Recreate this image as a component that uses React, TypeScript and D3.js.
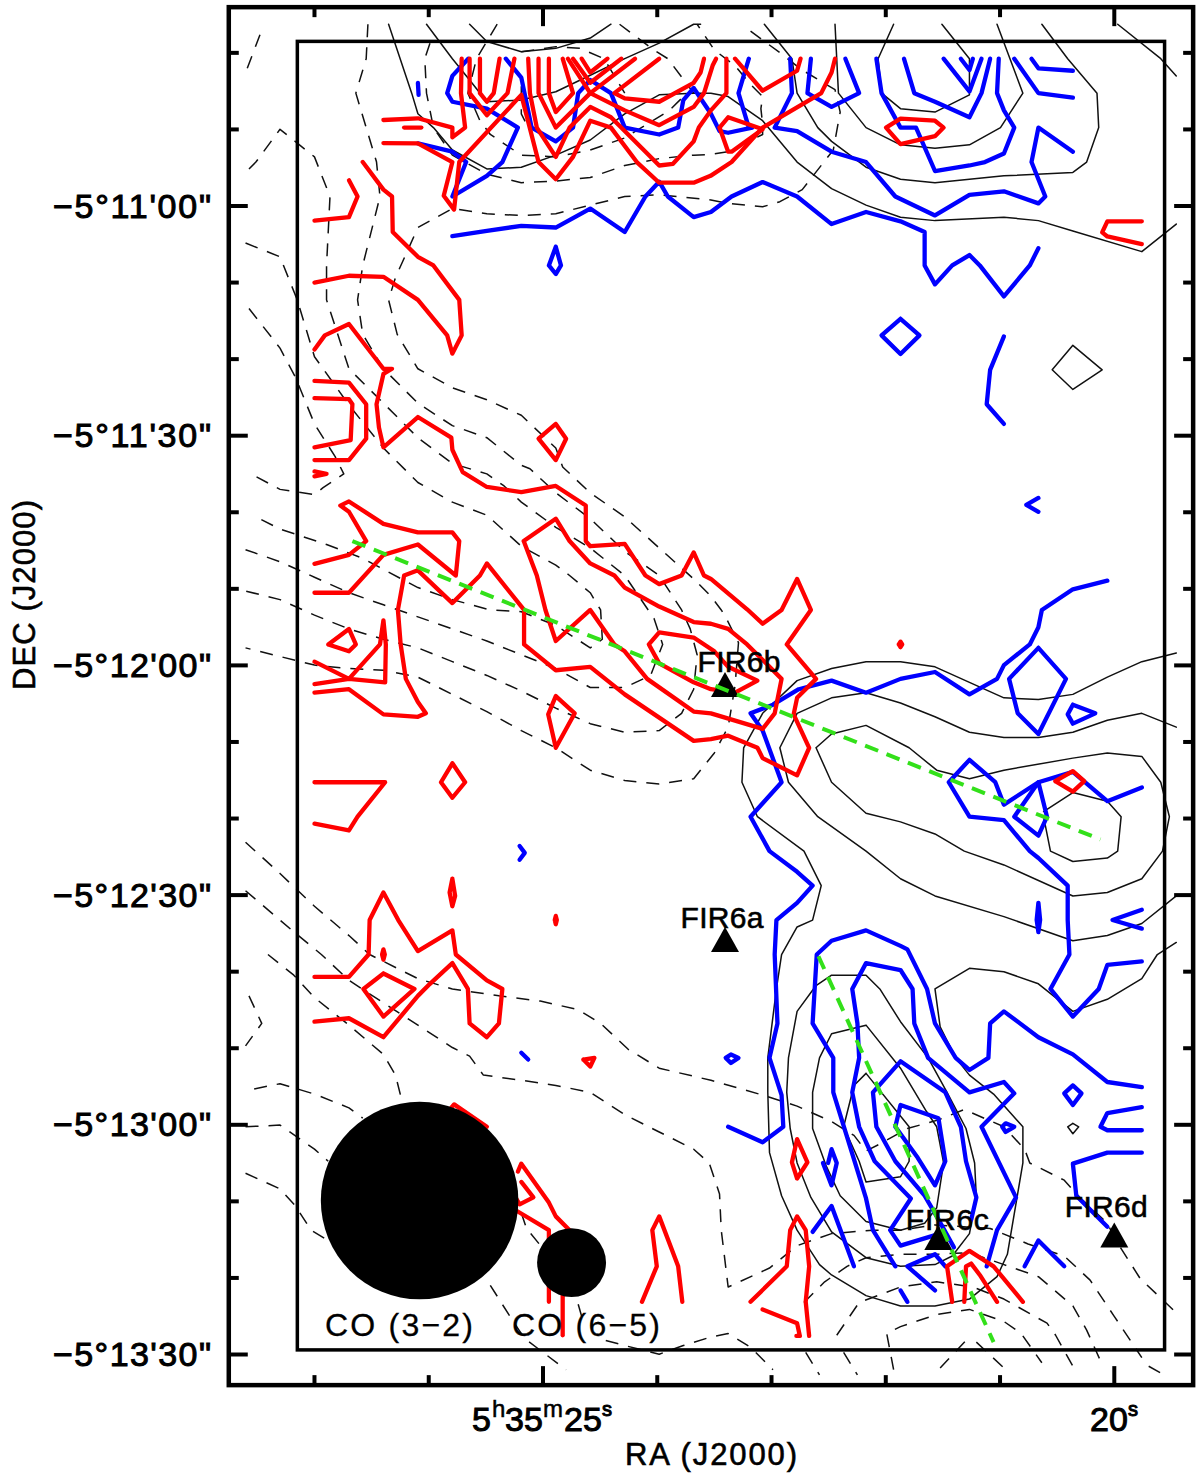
import React from "react";
import * as d3 from "d3";

// Map grid: contour vertices are given in map cells (column, row).
const gridOriginRA = 27.0; // seconds of RA at column 0
const gridStepRA = 0.3017;
const gridOriginDec = -19.24; // arcsec south of -5d11m00s at row 0
const gridStepDec = 4.5;

const redContours: number[][] = [
  [4.27,0, 4.25,1, 4.37,2, 4,2.28, 4,2, 3,1.73, 2,1.78],
  [2,2.45, 3,2.46, 4,3, 3.75,3.98, 4.05,4.38, 4.2,3, 6,1.05, 6.5,3, 7,3.5, 7.5,2.85, 8,1.8, 8.6,2, 9.35,3, 10,3.6, 11,3.6, 11.49,3.4, 12.1,3, 13,2, 14.7,1, 15,.4, 15.1,0],
  [4.5,0, 4.5,1, 5,1.64, 5.6,1, 5.8,0],
  [4.8,0, 4.8,1, 5,1.25, 5.2,1, 5.37,0],
  [6.2,0, 6.25,1, 6.45,2, 7,2.85, 7.4,2, 8,1.4, 8.6,1.7, 9.5,2.6, 10,3.1, 10.4,3.05, 11,2.4, 11.15,2, 11.5,1.5, 11.95,1, 11.95,0],
  [6.5,0, 6.5,1, 7,2, 8,1, 9.3,0],
  [10,0, 8.7,1, 9,1.15, 10,1.25, 11,.7, 11.2,.4, 11.3,0],
  [6.8,0, 6.8,1, 7,1.55, 7.5,1, 7.2,0],
  [7.35,0, 8,1, 9,1.5, 10,1.93, 11,1.4, 11.3,1, 11.55,.2, 11.65,0],
  [7.5,0, 8,.7, 8.9,0],
  [7.75,0, 8,.4, 8.5,0],
  [11.75,2, 12,1.7, 13,2.05, 12.1,2.7, 12,2.7, 11.75,2],
  [12.2,0, 13,.93, 14,.35, 14.1,0],
  [2.6,2, 3.1,2],
  [16.58,2, 17,1.74, 18,1.8, 18.25,2, 18,2.25, 17,2.48, 16.58,2],
  [24,4.72, 23,4.72, 22.85,5.04, 23,5.16, 24,5.38],
  [0,4.7, 1,4.6, 1.25,4, 1,3.53],
  [1.4,3, 2,3.8, 2.25,4, 2.27,5.03, 3,5.75, 3.45,6, 4.2,7, 4.27,8.03, 4,8.56, 3.85,8.03, 3,7, 2,6.33, 1,6.3, 0,6.5],
  [0,8.44, .3,8.03, 1,7.7, 2,9, 2.25,9, 2,9.15, 1.8,10.03, 1.87,10.7, 2,11.28, 3,10.4, 3.97,11, 4,11.35, 4.3,12, 5,12.43, 6,12.58, 7,12.4, 7.87,12.97, 7.87,14, 8,14.15, 9,14.08, 9.6,15, 10,15.25, 10.65,15, 11,14.33, 11.3,15, 11.5,15.1, 12.55,15.98, 13,16.4, 13.55,16, 14,15.1, 14.4,16, 13.7,17, 14.55,18, 14,18.55, 13.9,19.03, 14.35,20, 14,20.8, 13,20.3, 12.85,20, 12,19.65, 11.5,19.75, 11,19.8, 9,18.45, 8,17.65, 7,17.75, 6.08,17, 6.08,16, 5,14.65, 4.8,15, 4,15.8, 3,14.85, 2.6,15, 2.42,16, 2.5,17, 2.65,18, 3,18.67, 3.23,19, 3,19.1, 2,19.03, 1,18.3, 0,18.4],
  [0,9.35, 1,9.4, 1.5,10.03, 1.5,11.03, 1,11.65, 0,11.65],
  [0,9.85, 1,9.88, 1.1,10.03, 1.05,11.07, 0,11.28],
  [0,11.98, .35,12.05, 0,12.12],
  [7,10.6, 7.3,11.03, 7,11.65, 6.5,11.03, 7,10.6],
  [0,14.66, 1,14.4, 1.5,14, 1,13.15, .75,12.97, 1,12.85, 2,13.5, 3,13.75, 4,13.75, 4.2,14, 4.1,15, 3,14.1, 2,14.4, 1,15.5, 0,15.5],
  [6.07,14, 7,13.35, 7.4,14, 8,14.65, 8.7,15, 9,15.35, 10,15.9, 11,16.35, 11.5,16.4, 12,16.55, 12.55,17, 13.55,18, 13.35,19, 13,19.45, 11.5,19, 11,18.95, 9.65,18, 9,17.2, 8.7,17, 8,16, 7,16.9, 6.7,16, 6.45,15, 6.07,14],
  [9.7,17, 10,16.65, 11,16.8, 11.6,17.2, 12,17.65, 12.85,18.05, 12.2,18.4, 11.5,18.3, 11,18.1, 10,17.55, 9.7,17],
  [.4,17, 1,16.55, 1.2,17, 1,17.2, .4,17],
  [0,17.5, 1,18, 2.05,18.1, 2.07,17, 2,16.3, 1.9,17, 1,18, 0,18.15],
  [7,18.5, 7.55,19, 7,20, 6.78,19.03, 7,18.5],
  [4,20.45, 4.37,21, 4,21.45, 3.67,21, 4,20.45],
  [0,21, 1,21, 2.05,21, 1.25,22, 1,22.4, 0,22.2],
  [4,23.8, 4.08,24.3, 4,24.6, 3.92,24.2, 4,23.8],
  [6.97,25, 7,24.88, 7.03,25, 7,25.12, 6.97,25],
  [16.95,17, 17,16.92, 17.05,17, 17,17.08, 16.95,17],
  [0,26.65, 1,26.65, 1.57,26, 1.6,25, 2,24.2, 2.43,25, 3,25.9, 4,25.3, 4.1,26, 5,26.75, 5.45,27, 5.35,28, 5,28.4, 4.5,28, 4.45,27, 4,26.25, 3.35,26.85, 3,27.2, 2,28.4, 1,27.85, 0,27.95],
  [1.96,26, 2,25.85, 2.04,26, 2,26.15, 1.96,26],
  [2,26.55, 2.9,27, 2,27.8, 1.42,27, 2,26.55],
  [7.8,29.05, 8.12,29, 8,29.25, 7.8,29.05],
  [5.9,32.3, 6,32.07, 6.8,33.2, 7,33.6, 7.4,34, 7.6,35],
  [5.8,33.4, 6.8,34, 6.8,36.08],
  [6,32.6, 6.35,33.05, 5.95,33.25, 5.8,33],
  [7.2,35.5, 7.2,37.05],
  [3.5,31, 4.05,30.35, 5,31],
  [9.5,36.08, 9.93,35.05, 9.8,34, 10,33.6, 10.55,35.05, 10.67,36.08],
  [12.65,36.08, 13.7,35.05, 13.8,34, 14,33.6, 14.25,34, 14.35,35.05, 14.25,36.08, 14.35,37.07],
  [13,36.3, 14,36.7, 14.08,37.07, 13.98,37.07],
  [18.5,36.08, 18.35,35.05, 19,34.6, 19.7,35.05, 20.55,36.08],
  [18.85,36.08, 18.9,35.05, 19.05,34.97, 19.3,35.3, 19.8,36.08],
  [14,31.36, 14.3,32.03, 14,32.5, 13.85,32.03, 14,31.36],
  [21.49,20.97, 22,20.68, 22.33,20.97, 22,21.27, 21.49,20.97],
];

const blueContours: number[][] = [
  [3,.7, 3.02,1.05],
  [4.46,0, 4,.5, 3.85,1, 4,1.25, 5,1.45, 5.9,2, 5.45,3, 5,3.4, 4,4, 4.4,3, 4,2.7, 3,2.46],
  [5.55,0, 6,.55, 6.3,2, 7,2.4, 7.5,2, 7.65,1, 8,.62, 8.6,1, 9,2, 10,2.2, 10.55,2, 10.7,1.2, 11,.85, 11.5,1.6, 11.75,2.1, 12,2.15, 12.7,2, 12.6,2, 12.3,1, 12.6,0],
  [4,5.15, 5,5, 6,4.85, 7,4.9, 8,4.35, 9,5.03, 9.6,4, 10,3.57, 10.25,4, 11,4.6, 11.5,4.45, 12.1,4, 13,3.58, 14,4, 15,4.8, 16,4.45, 17,4.72, 17.7,5.03, 17.7,6, 18,6.55, 18.5,6, 19,5.7, 19.3,6, 20,6.9, 20.75,6, 21,5.5],
  [13.8,0, 13.85,1, 13.35,2, 14,2.1, 15,2.7, 16,3, 16.85,4, 18,4.55, 19,3.95, 20,3.85, 21,4.2, 21.2,4, 20.8,3, 21,2, 22,2.7],
  [14.4,0, 14.3,1, 15,1.4, 15.8,1, 15.4,0],
  [16.3,0, 16.45,1, 17,2, 17.45,2, 18,3.26, 19,3.1, 19.45,3, 20,2.75, 20.3,2, 20,1.5, 19.8,1, 19.85,0],
  [17.1,0, 17.4,1, 18,1.25, 19,1.7, 19.35,1, 19.6,0],
  [18.25,0, 19,.95, 19.35,0],
  [18.75,0, 19,.33, 19.1,0],
  [20.3,0, 21,1, 22,1.13],
  [20.8,0, 21,.28, 22,.35],
  [17,7.55, 17.55,8.03, 17,8.57, 16.45,8.03, 17,7.55],
  [20,8.06, 19.6,9.03, 19.5,10.03, 20,10.6],
  [7,5.46, 7.15,6, 7,6.25, 6.8,6, 7,5.46],
  [5.95,22.85, 6.1,23.05, 5.95,23.25],
  [6,28.85, 6.2,29.05],
  [11.93,29, 12.08,28.9, 12.3,29, 12.08,29.15, 11.93,29],
  [23,15.15, 22,15.4, 21.1,16, 21,16.5, 20.75,17, 20,17.6, 19.8,18, 19,18.45, 18,17.8, 17,18, 16,18.4, 15,18.05, 14.05,18.3, 13.3,18.75, 12.65,19, 13,19.5, 13.55,21, 12.65,22, 13.2,23, 14,23.6, 14.45,24, 14,24.5, 13.4,25, 13.35,26, 13.43,28, 13.2,29, 13.55,30.08, 13.6,31, 13,31.45, 12,31],
  [21,17.1, 21.8,18, 21,19.6, 20.4,19, 20.15,18, 21,17.1],
  [22,18.75, 22.65,19, 22,19.3, 21.85,19.03, 22,18.75],
  [21,12.75, 20.65,12.95, 21,13.15],
  [24,21.15, 23,21.55, 22,20.7, 21,21, 20,21.65, 19.75,21, 19,20.35, 18.4,21, 19,22, 20,22.1, 20.75,23, 21,23.2, 21.85,24, 21.85,25, 21.9,26, 21.35,27, 22,27.8, 22.75,27, 23,26.3, 24,26.2],
  [21,21, 21.25,22, 21,22.55, 20.3,22, 21,21],
  [21,24.5, 21.05,25, 21,25.35, 20.95,25, 21,24.5],
  [24,24.7, 23.15,25, 24,25.25],
  [16.85,35.05, 16.2,34, 16,33.08, 15.05,30, 15.05,29, 14.45,28, 14.57,26, 15,25.6, 16,25.3, 17,25.75, 17.2,25.85, 17.77,27, 18,28, 18.6,29, 19,29.35, 19.55,29, 19.6,28, 20,27.65, 21,28.4, 22,28.9, 23,29.7, 24,29.85],
  [18.15,34.1, 17,34.45, 16.7,34, 17.3,33.08, 16.25,32, 15.8,31, 15.6,30, 15.8,29, 15.75,28, 15.6,27, 16,26.25, 17,26.45, 17.35,27, 17.4,28, 17.8,29, 19,30, 20,29.7, 20.3,30.03, 19.35,31, 20.35,33.05, 19.8,34, 19.5,35.05],
  [18.55,34.5, 18.05,33.6, 17.7,33, 16.85,32, 16.3,31, 16.2,30, 17,29.1, 18.3,30, 18.75,31, 18.9,32, 19.2,33.05, 19.05,33.7],
  [17,30.37, 18.1,30.75, 18.3,32, 18,32.7, 17.5,31.9, 16.85,31, 17,30.37],
  [14.9,32.05, 15,31.65, 15.15,32.05, 15,32.7, 14.75,32.05],
  [14.45,34.05, 15,33.3, 15.65,35.05],
  [18.3,35.05, 18,34.7, 17.2,35.05, 18,35.75],
  [17,35.75, 17.2,36.08],
  [24,31.75, 23,31.75, 22,32.07, 22.1,33, 23,33.9],
  [24,30.43, 23,30.6, 22.8,31, 23,31.1, 24,31.1],
  [22,29.8, 22.25,30.03, 22,30.37, 21.75,30.03, 22,29.8],
  [19.95,31, 20.05,30.9, 20.3,31, 20.05,31.15, 19.95,31],
  [20.6,35.05, 21,34.3, 21.75,35.05],
];

const solidContours: number[][] = [
  [2.15,-1, 2.82,1, 3,1.6, 3.45,2, 4,2.65, 5,3.2, 6,3.15, 7,2.8, 8,2.36, 9,1.6, 10,1.05, 11,1, 11.5,1, 12,1.1, 13,1.8, 14,3, 15,3.77, 16,4.25, 17,4.6, 18,4.7, 20,4.6, 21,4.7, 22,5, 24,5.6, 25,4.8],
  [3.25,-1, 4,0, 4.5,.62, 5,1.25, 6,1.2, 7,.96, 8,.48, 9,0, 10,-.45, 11,-1, 11.2,-1],
  [4.5,-1, 5,-.5, 6,-.2, 7,-.3, 8,-.6, 8.6,-1],
  [13.05,-1, 13.85,0, 14,1, 14.6,2, 15,2.4, 16,3.15, 17,3.5, 18,3.6, 19,3.5, 20,3.4, 22,3.3, 22.4,3, 22.75,2, 22.7,1, 21.85,0, 21.1,-1],
  [15.1,-1, 15.2,1, 16,2, 17,2.5, 18,2.6, 19,2.5, 19.9,2, 20.55,1, 19.8,-1],
  [16.8,-1, 16.35,0, 16.45,1, 17,1.45, 18,1.55, 19,1.05, 19,.35, 19,0, 18.2,-1],
  [23.3,-1, 24.55,0, 25,.5],
  [22,8.32, 22.85,9.03, 22,9.6, 21.4,9.03, 22,8.32],
  [25,17.25, 24,17.5, 23,17.95, 22,18.45, 21,18.6, 20,18.55, 19,18.1, 18,17.65, 17,17.5, 16,17.5, 15,17.7, 14,18.05, 13,19, 12.45,20, 12.4,21, 12.85,22, 14.2,23, 14.7,24, 14.45,25, 14,25.2, 13.55,26, 13.4,27, 13.15,29, 13.15,30, 13.2,31.75, 13.55,33, 14,34, 14.65,35, 15,35.3, 16,35.9, 17,36.2, 18,36.2, 19,36, 19.8,35.35, 20.1,34.7, 20.55,32.05, 20.55,31, 19.7,30.05, 19,29.5, 18.6,29, 18.15,28.1, 18,27, 19,26.4, 20,26.5, 21,26.85, 22,27.65, 23,27.3, 24,26.7, 24.45,26, 25,25.65],
  [25,19.4, 24,19, 23,19.2, 22,19.55, 21,19.7, 20,19.7, 19,19.55, 18,19.1, 17,18.7, 16,18.4, 15,18.55, 14,19, 13.5,20, 13.75,21, 14.6,22, 16,23, 17,23.8, 18,24.3, 20,24.9, 22,25.6, 23,25.45, 24,25.1, 25,24.3],
  [14.55,20, 15,19.6, 16,19.35, 17.25,20, 18.05,20.65, 19,20.9, 20,20.65, 22,20.3, 23,20.15, 24,20.25, 24.55,21, 24.8,22, 24.6,23, 24,23.8, 23,24.2, 22,24.3, 20,23.4, 18.85,23, 18,22.5, 17,22.15, 16,21.9, 15,21, 14.55,20],
  [21.15,21.85, 22,21.3, 23,21.55, 23.4,22, 23.3,23, 23,23.2, 22,23.3, 21.35,23, 21.15,22],
  [16,26.6, 15,26.6, 14.55,26.9, 14,27.65, 13.75,29, 13.7,30, 13.8,31.05, 14,32.05, 14.4,33.05, 15,34.05, 16,34.8, 17,35.05, 18,35, 18.5,34.75, 19,34.1, 19.2,33.05, 19.15,32.05, 18.9,31.05, 18.35,30, 17.8,29, 17,27.95, 16.4,27, 16,26.6],
  [16,28.05, 15,28.3, 14.65,29, 14.45,30, 14.45,31.05, 14.85,32.15, 15.25,33, 16,33.75, 17,34, 17.7,33.8, 18.05,33.35, 18.25,32.05, 18.05,31, 17.75,30.55, 17,29.3, 16,28.05],
  [16,29.45, 15.65,29.8, 15.35,31, 15.8,32, 16,32.6, 17,32.45, 17.25,32, 17.25,31, 16,29.45],
  [22,30.9, 22.17,31, 22,31.2, 21.85,31, 22,30.9],
];

const dashedContours: number[][] = [
  [-1.95,.28, -1.55,-.78],
  [-1.9,7.25, -1,8.4, -.55,9.25, 0,10.6, .6,11.55, .85,12.05, .25,12.45, 0,12.65, -1,12.5, -1.75,12.1],
  [-2,5.35, -1,5.75, -.5,7, 0,8.65, 1,10.05, 2,11.3, 3,12.3, 4,12.87, 5,13.25, 6,14.15, 7,14.7, 7.4,15, 8,15.5, 8.3,16, 8.35,16.85, 8,17.1, 7,16.45, 6,16.05, 5.1,16, 4,15.7, 3,15.35, 2.05,14.85, 1.4,14.5, .35,14.1, -1,13.65, -1.7,13.3],
  [-1.9,3.2, -1.7,3, -1,2.05, 0,2.85, .45,4, .35,6, .35,7, 1,9, 2,10, 3,11, 4,11.75, 5,12.05, 5.5,12.4, 6,12.87, 7,13.6, 8,14.2, 9,15, 9.85,16.25, 10.1,17, 9.75,17.9, 9,18.25, 8,18.25, 7,17.7, 6,17.3, 5,16.9, 4,16.55, 3,16.2, 2,15.85, 1,15.5, 0,15.05, -1,14.6, -2,14.25],
  [1.55,-1, 1.5,0, 1.2,1, 1.5,2, 1.8,3, 1.9,4, 1.4,6, 1.25,7, 1.4,8, 2,9, 3,10, 4,10.65, 5,11, 6,11.8, 6.25,11.9, 7,12.6, 8,13.35, 9,14.3, 10,15, 10.65,16, 10.9,16.55, 11.1,17.3, 11,18.3, 10.65,19, 10,19.5, 9,19.55, 8,19.3, 7,18.85, 6,18.35, 5,17.9, 4,17.5, 3,17.1, 2,16.85, 1,16.55, 0,16.15, -1,15.7, -2,15.45],
  [12.65,-.8, 13.6,-.1, 14.1,.3, 15.1,.9, 15.25,1.55, 15.05,2.65, 14.15,3.8, 13.5,4.15, 13,4.3, 12,4.2, 11.5,4.1, 10,3.95, 9,4, 8,4.25, 7,4.5, 6,4.55, 5,4.5, 4,4.35, 3,4.9, 2.35,6.35, 2.15,7, 2.4,8, 3,9, 4,9.55, 5,9.9, 6,10.35, 7,11.3, 7.2,11.85, 8,12.6, 9,13.3, 10,14.2, 11,15.1, 11.5,15.6, 11.8,16, 11.95,16.25, 12.3,16.95, 12.2,18.2, 12,19.4, 11.6,20.15, 11,20.9, 10,21.05, 9,20.95, 8,20.65, 7,20, 6,19.5, 5,18.95, 4,18.45, 3,17.95, 2,17.75, 1,17.7, 0,17.6, -1,17.35, -2,17.1],
  [3.35,-.45, 3.2,0, 3.25,1, 3.45,2, 4,2.8, 5,3.35, 6,3.6, 7,3.55, 8,3.45, 9,3.1, 10,2.9, 11,2.8, 11.5,2.78, 12,2.7, 13,2.2, 13,1.9, 12.95,1.45, 13,1.1, 12.65,.75, 12.2,.2, 11.6,-.25, 11.1,-1],
  [5.3,-1, 4.7,0, 4.45,1, 4.8,1.8, 5.1,2.2, 6,2.8, 7,2.85, 8,2.65, 9,2.3, 10.3,1.5, 10.8,1],
  [8.85,-1, 9.85,-.25, 10.25,0, 11,1],
  [6,-.2, 7,-.35, 7.7,-.3, 8.4,0, 9,1],
  [6,.8, 6,1.6, 6.2,2],
  [-2,22.74, -1,23.65, 0,24.6, 1,25.45, 1.6,26, 2,26.2, 3,26.7, 4,27, 5.35,27.2, 6.55,27.35, 7.65,27.6, 8.3,28, 9.1,28.75, 10,29.3, 11.5,29.65, 13,30.08, 14,30.4, 15,30.85, 15.65,31.25, 16,31.7, 16.4,31.5, 17.2,31.05, 18.1,30.8, 18.85,30.5, 20,31, 20.6,31.65, 20.75,32.05, 21.75,32.55, 22.2,33.05, 23,33.8, 23.25,34.3, 23.95,35.4, 25,36.4],
  [-2,24.15, -1,25, -.65,25.3, .2,26, 1,26.75, 2,27.4, 3,28.05, 4,28.7, 4.5,28.95, 4.9,29.5, 6,29.65, 7,29.8, 8,30, 9,30.65, 10,31.15, 11,31.65, 11.45,32.05, 11.75,32.95, 11.8,34, 12,35.65, 13.2,35.1, 14,34.45, 15,34.1, 16.2,34, 17,34, 18,33.85, 19.6,33.95, 20.7,34.4, 21.75,34.75, 22.5,35.45, 23.2,36.5, 24,37.7],
  [-1.75,29.9, -1,29.75, 0,30.05, 1,30.45, 1.4,30.75],
  [-1.35,26, -.6,26.6, 0,27.25, 1,28.05, 2,28.9, 2.35,29.5, 2.55,30.3],
  [6,33.5, 6.15,33.95, 6.6,34.5],
  [7.65,36.15, 7.75,36.5],
  [-2,31, -1,30.95, -.5,31.3, 0,31.65, .4,32],
  [5.1,35.6, 5.7,36.55, 6.1,37.15, 6.7,37.6, 7.3,38.05],
  [-2,32.35, -1,32.8, -.55,33.3, -.1,34, .4,34.3],
  [-1.9,27.2, -1.53,28, -2,28.65],
  [8.45,37.2, 9,37.35, 10,37.6, 10.7,37.35, 11.5,37.1, 12,37, 12.65,37.4, 13.3,38.05],
  [14.25,37.55, 14.65,38.2],
  [15.35,37.55, 15.75,38.2],
  [14.2,36.1, 14.8,35.5, 15.45,35.05, 16,34.8, 17,34.7, 18.05,34.7, 19,34.65, 20,35, 21,35.35, 22,36.2, 22.4,36.9, 22.85,37.9],
  [15.15,37.05, 15.8,36.1, 17,35.65, 18.05,35.5, 19.1,35.65, 20,36, 21.25,36.7, 21.5,37.05, 22,37.95],
  [16.8,38.05, 16.6,37, 17,36.8, 18.05,36.45, 19,36.3, 20,36.65, 20.5,37, 21.1,37.85],
  [18.15,38, 18.9,37.2],
  [19.2,37.25, 20,38],
  [24.2,37.95, 24.65,38.2],
];

const outflowAxes: number[][] = [
  [1.1,14, 22.8,22.66],
  [14.62,26.05, 19.7,37.25],
];

const sourceNames = ["FIR6b", "FIR6a", "FIR6c", "FIR6d"];
const sourceRA = [23.407, 23.407, 21.54, 20.0];
const sourceDec = [62.7, 96.0, 134.9, 134.6];
const labelDx = [14, -3, 9, -8];
const labelDy = [-14, -13, -9, -20];

const beamNames = ["CO (3\u22122)", "CO (6\u22125)"];
const beamRA = [26.08, 24.75];
const beamDec = [129.9, 138.0];
const beamRadiusArcsec = [12.9, 4.5];

const raMajor = [25, 20];
const raMinor = [27, 26, 24, 23, 22, 21];
const decMajor = [0, 30, 60, 90, 120, 150];
const decMajorLabels = ["11'00\"", "11'30\"", "12'00\"", "12'30\"", "13'00\"", "13'30\""];
const decMinor = [-20, -10, 10, 20, 40, 50, 70, 80, 100, 110, 130, 140];

const x = d3.scaleLinear().domain([25, 20]).range([543, 1114.3]);
const y = d3.scaleLinear().domain([0, 150]).range([206, 1354.5]);

const frame = { ra0: 27.75, ra1: 19.31, dec0: -25.97, dec1: 154 };
const box = { ra0: 27.15, ra1: 19.56, dec0: -21.5, dec1: 149.4 };

const pairs = (flat: number[]) => {
  const out: [number, number][] = [];
  for (let k = 0; k < flat.length; k += 2) out.push([flat[k], flat[k + 1]]);
  return out;
};
const lineGen = d3
  .line<[number, number]>()
  .x((d) => x(gridOriginRA - gridStepRA * d[0]))
  .y((d) => y(gridOriginDec + gridStepDec * d[1]));
const pathOf = (flat: number[]) => lineGen(pairs(flat)) as string;

const FONT = "'Liberation Sans', sans-serif";
const textStyle = { fontFamily: FONT, fill: "#000", stroke: "#000", strokeWidth: 1 } as const;
const titleStyle = { fontFamily: FONT, fill: "#000", stroke: "#000", strokeWidth: 0.6 } as const;

function Contours({ sets, color, width, dash }: { sets: number[][]; color: string; width: number; dash?: string }) {
  return (
    <g fill="none" stroke={color} strokeWidth={width} strokeLinejoin="round" strokeLinecap={dash ? "butt" : "round"} strokeDasharray={dash}>
      {sets.map((s, i) => (
        <path key={i} d={pathOf(s)} />
      ))}
    </g>
  );
}

export default function App() {
  const fx0 = x(frame.ra0), fx1 = x(frame.ra1), fy0 = y(frame.dec0), fy1 = y(frame.dec1);
  const bx0 = x(box.ra0), bx1 = x(box.ra1), by0 = y(box.dec0), by1 = y(box.dec1);
  const tri = (cx: number, cy: number) => `M${cx},${cy - 14}L${cx + 14},${cy + 11}L${cx - 14},${cy + 11}Z`;
  return (
    <svg width={1200} height={1479} viewBox="0 0 1200 1479" style={{ position: "absolute", left: 0, top: 0, display: "block", background: "#fff" }}>
      <Contours sets={solidContours} color="#111" width={1.5} />
      <Contours sets={dashedContours} color="#111" width={1.5} dash="13 10" />
      <Contours sets={blueContours} color="#0000ff" width={4.3} />
      <Contours sets={redContours} color="#ff0000" width={4.3} />

      <rect x={bx0} y={by0} width={bx1 - bx0} height={by1 - by0} fill="none" stroke="#000" strokeWidth={3.5} />
      <rect x={fx0} y={fy0} width={fx1 - fx0} height={fy1 - fy0} fill="none" stroke="#000" strokeWidth={4.5} />

      <g stroke="#000" strokeWidth={4}>
        {raMajor.map((v) => (
          <g key={v}>
            <line x1={x(v)} x2={x(v)} y1={fy0} y2={fy0 + 19} />
            <line x1={x(v)} x2={x(v)} y1={fy1} y2={fy1 - 19} />
          </g>
        ))}
        {raMinor.map((v) => (
          <g key={v}>
            <line x1={x(v)} x2={x(v)} y1={fy0} y2={fy0 + 10} />
            <line x1={x(v)} x2={x(v)} y1={fy1} y2={fy1 - 10} />
          </g>
        ))}
        {decMajor.map((v) => (
          <g key={v}>
            <line y1={y(v)} y2={y(v)} x1={fx0} x2={fx0 + 19} />
            <line y1={y(v)} y2={y(v)} x1={fx1} x2={fx1 - 19} />
          </g>
        ))}
        {decMinor.map((v) => (
          <g key={v}>
            <line y1={y(v)} y2={y(v)} x1={fx0} x2={fx0 + 10} />
            <line y1={y(v)} y2={y(v)} x1={fx1} x2={fx1 - 10} />
          </g>
        ))}
      </g>

      {beamNames.map((n, i) => (
        <circle key={n} cx={x(beamRA[i])} cy={y(beamDec[i])} r={y(beamRadiusArcsec[i]) - y(0)} fill="#000" />
      ))}
      {sourceNames.map((n, i) => (
        <path key={n} d={tri(x(sourceRA[i]), y(sourceDec[i]))} fill="#000" />
      ))}
      <g fill="none" stroke="#33e01a" strokeWidth={4} strokeDasharray="14 9">
        {outflowAxes.map((s, i) => (
          <path key={i} d={pathOf(s)} />
        ))}
      </g>
      {sourceNames.map((n, i) => (
        <text key={n} x={x(sourceRA[i]) + labelDx[i]} y={y(sourceDec[i]) + labelDy[i]} textAnchor="middle" fontSize={30} style={titleStyle} textLength={83}>
          {n}
        </text>
      ))}
      {beamNames.map((n, i) => (
        <text key={n} x={[325, 512][i]} y={1336} fontSize={32} style={{ ...titleStyle, strokeWidth: 0.3 }} textLength={148}>
          {n}
        </text>
      ))}
      {decMajor.map((v, i) => (
        <text key={v} x={53} y={y(v) + 11.5} fontSize={34} style={textStyle} textLength={158}>
          {"\u22125\u00b0" + decMajorLabels[i]}
        </text>
      ))}
      <text y={1431} fontSize={34} style={textStyle}>
        <tspan x={472}>5</tspan>
        <tspan x={492} dy={-14} fontSize={24} strokeWidth={0.5}>h</tspan>
        <tspan x={505} dy={14}>35</tspan>
        <tspan x={543} dy={-14} fontSize={24} strokeWidth={0.5}>m</tspan>
        <tspan x={564} dy={14}>25</tspan>
        <tspan x={602} dy={-15} fontSize={20}>s</tspan>
      </text>
      <text y={1431} fontSize={34} style={textStyle}>
        <tspan x={1090}>20</tspan>
        <tspan x={1128} dy={-15} fontSize={20}>s</tspan>
      </text>
      <text x={625} y={1465} fontSize={31} style={titleStyle} textLength={172}>
        RA (J2000)
      </text>
      <text transform="translate(35,690) rotate(-90)" fontSize={31} style={titleStyle} textLength={190}>
        DEC (J2000)
      </text>
    </svg>
  );
}
